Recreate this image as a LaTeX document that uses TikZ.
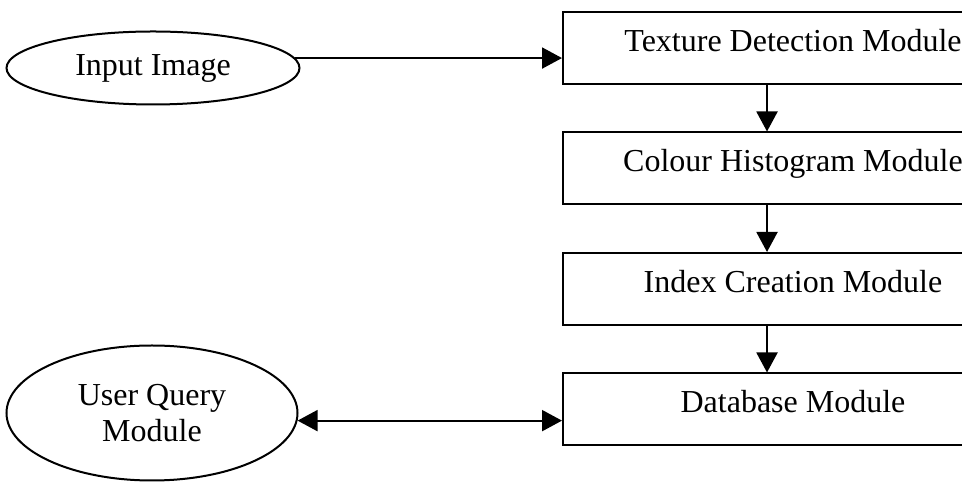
\documentclass[tikz,border=0pt]{standalone}
\usepackage{fontspec}
\setmainfont{Liberation Serif}
\usetikzlibrary{arrows.meta,positioning,shapes.geometric}

\begin{document}
\begin{tikzpicture}[x=0.5pt,y=-0.5pt,->,>={Triangle[length=10pt,width=10.5pt]},
  line width=1pt,node distance=23.25pt,font=\fontsize{16}{18}\selectfont,
  module node/.style={rectangle,draw,minimum width=230pt,minimum height=36pt,
    inner sep=0pt,text height=11pt,text depth=7.5pt},
  oval node/.style={ellipse,draw,inner sep=0pt,align=center}]

 \useasboundingbox (0,0) rectangle (962,490);
 \clip (0,0) rectangle (962,490);

 \node[module node] (texture) at (793,48) {Texture Detection Module};
 \node[module node] (colour) [below=of texture] {Colour Histogram Module};
 \node[module node] (index) [below=of colour] {Index Creation Module};
 \node[module node] (database) [below=of index] {Database Module};
 \node[oval node,minimum width=146.5pt,minimum height=36.5pt] (input) at (153,68) {Input Image};
 \node[oval node,minimum width=145.5pt,minimum height=67.5pt] (query) at (152,413) {User Query\\Module};

 \path
    (input.4)	edge (input.4 -| texture.west)
    ([xshift=-13pt]texture.south)	edge ([xshift=-13pt]colour.north)
    ([xshift=-13pt]colour.south)	edge ([xshift=-13pt]index.north)
    ([xshift=-13pt]index.south)	edge ([xshift=-13pt]database.north)
    (query.-3)	edge [<->] (query.-3 -| database.west);

\end{tikzpicture}
\end{document}
